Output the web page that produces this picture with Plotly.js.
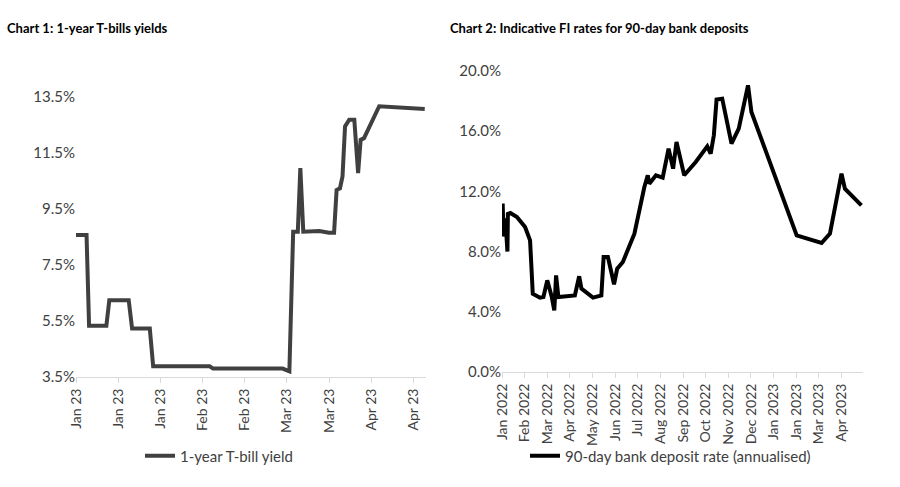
<!DOCTYPE html>
<html><head><meta charset="utf-8">
<script src="https://cdn.plot.ly/plotly-3.0.1.min.js"></script>
<style>body{margin:0;background:#fff}#c{width:900px;height:487px}</style>
</head><body><div id="c"></div>
<script>
// Chart 1: 1-year T-bill yield (x in tick-interval units)
const tbX = [0,0.25,0.31,0.72,0.79,1.25,1.33,1.75,1.83,3.17,3.25,4.9,5.06,5.15,5.26,5.32,5.39,5.61,5.77,6.0,6.12,6.18,6.26,6.32,6.38,6.48,6.6,6.69,6.75,6.83,7.19,8.27];
const tbY = [8.57,8.57,5.33,5.33,6.24,6.24,5.23,5.23,3.88,3.88,3.80,3.80,3.70,8.69,8.69,10.96,8.69,8.69,8.71,8.65,8.65,10.18,10.24,10.66,12.45,12.69,12.69,10.78,11.97,12.03,13.17,13.07];
const tbTicks = ["Jan 23","Jan 23","Jan 23","Feb 23","Feb 23","Mar 23","Mar 23","Apr 23","Apr 23"];
// Chart 2: 90-day bank deposit rate (x in months from Jan 2022)
const dpX = [0.03,0.07,0.15,0.24,0.26,0.37,0.66,1.02,1.24,1.36,1.68,1.83,2.0,2.2,2.31,2.39,2.49,3.22,3.41,3.51,4.02,4.39,4.49,4.68,4.95,5.09,5.34,5.85,6.29,6.44,6.51,6.8,7.1,7.36,7.56,7.71,8.05,8.56,9.07,9.22,9.36,9.48,9.73,10.14,10.46,10.87,11.02,13.02,14.12,14.49,15.0,15.15,15.88];
const dpY = [11.2,9.0,10.2,8.0,10.5,10.56,10.3,9.63,8.75,5.2,4.94,4.98,6.09,4.98,4.1,6.42,4.98,5.09,6.36,5.54,4.94,5.09,7.64,7.64,5.83,6.87,7.31,9.19,12.29,13.07,12.51,13.07,12.91,14.84,13.51,15.28,13.07,13.95,14.99,14.51,15.73,18.1,18.16,15.17,16.17,19.05,17.28,9.08,8.57,9.19,13.18,12.18,11.07];
const dpTicks = ["Jan 2022","Feb 2022","Mar 2022","Apr 2022","May 2022","Jun 2022","Jul 2022","Aug 2022","Sep 2022","Oct 2022","Nov 2022","Dec 2022","Jan 2023","Jan 2023","Mar 2023","Apr 2023"];

const fam = "Lato, 'Open Sans', sans-serif";
const F = {family:fam, size:14, color:"#404040"};
const FY = {family:fam, size:15, color:"#404040"};
const xa = {showgrid:false, zeroline:false, showline:true, linecolor:"#d9d9d9", linewidth:1,
  ticks:"outside", ticklen:5, tickcolor:"#d9d9d9", tickangle:-90, tickfont:F, tickmode:"array"};
const ya = {showgrid:false, zeroline:false, showline:false, tickfont:FY, ticks:""};
const data = [
  {x:tbX, y:tbY, mode:"lines", name:"1-year T-bill yield", showlegend:true, line:{color:"#404040", width:4}, xaxis:"x", yaxis:"y", legend:"legend"},
  {x:dpX, y:dpY, mode:"lines", name:"90-day bank deposit rate (annualised)", showlegend:true, line:{color:"#000", width:4}, xaxis:"x2", yaxis:"y2", legend:"legend2"}
];
const layout = {
  width:900, height:487, margin:{l:0,r:0,t:0,b:0}, paper_bgcolor:"#fff", plot_bgcolor:"#fff", font:F, showlegend:true,
  xaxis:Object.assign({}, xa, {domain:[76/900,426/900], range:[0,8.3], tickvals:tbTicks.map((_,i)=>i), ticktext:tbTicks}),
  yaxis:Object.assign({}, ya, {domain:[1-377/487,1-97/487], range:[3.5,13.5], tickvals:[3.5,5.5,7.5,9.5,11.5,13.5], ticktext:["3.5%","5.5%","7.5%","9.5%","11.5%","13.5%"]}),
  xaxis2:Object.assign({}, xa, {domain:[502/900,863/900], range:[0,15.95], tickvals:dpTicks.map((_,i)=>i), ticktext:dpTicks, anchor:"y2"}),
  yaxis2:Object.assign({}, ya, {domain:[1-372/487,1-71/487], range:[0,20], anchor:"x2", tickvals:[0,4,8,12,16,20], ticktext:["0.0%","4.0%","8.0%","12.0%","16.0%","20.0%"]}),
  legend:{x:140/900, y:1-456/487, xanchor:"left", yanchor:"middle", orientation:"h", font:FY, bgcolor:"rgba(0,0,0,0)", visible:true},
  legend2:{x:525/900, y:1-456/487, xanchor:"left", yanchor:"middle", orientation:"h", font:FY, bgcolor:"rgba(0,0,0,0)", visible:true},
  annotations:[
    {text:"<b>Chart 1: 1-year T-bills yields</b>", xref:"paper", yref:"paper", x:5/900, y:1-28/487, xanchor:"left", yanchor:"middle", showarrow:false, font:{family:fam,size:13,color:"#000"}},
    {text:"<b>Chart 2: Indicative FI rates for 90-day bank deposits</b>", xref:"paper", yref:"paper", x:448/900, y:1-28/487, xanchor:"left", yanchor:"middle", showarrow:false, font:{family:fam,size:13,color:"#000"}}
  ]
};
Plotly.newPlot("c", data, layout, {displayModeBar:false, staticPlot:true});
</script></body></html>
